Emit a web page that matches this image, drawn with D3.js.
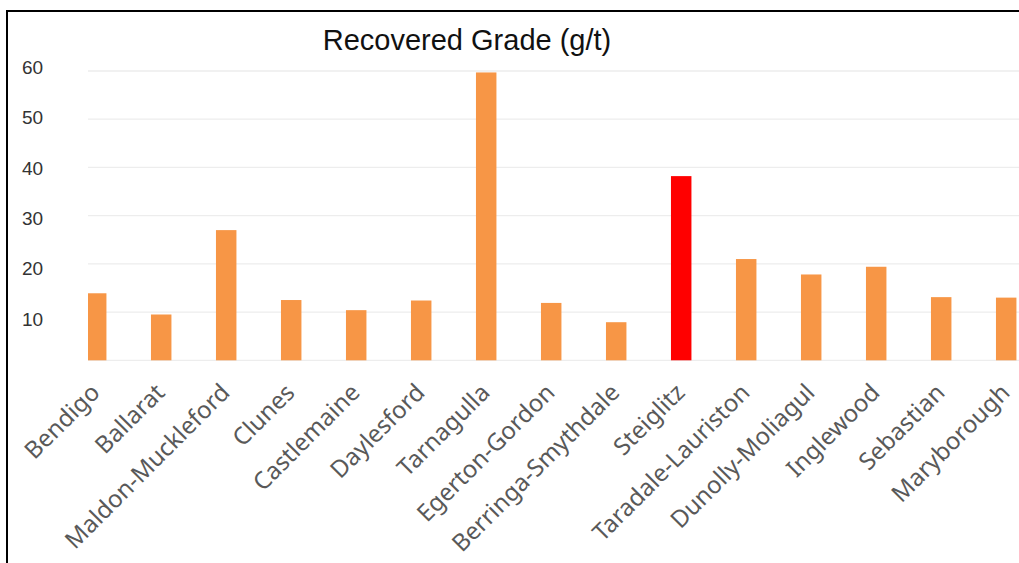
<!DOCTYPE html>
<html>
<head>
  <meta charset="utf-8">
  <script src="https://d3js.org/d3.v7.min.js"></script>
  <style>
    body { margin: 0; background: white; }
    svg { display: block; }
    .ytick { font-family: "Liberation Sans", Arial, sans-serif; font-size: 19px; fill: #333333; }
    .xlabel { font-family: "Noto Sans", sans-serif; font-size: 24px; fill: #595959; }
    .title { font-family: "Liberation Sans", Arial, sans-serif; font-size: 29px; fill: #111111; }
  </style>
</head>
<body>
<div id="chart"></div>
<script>
  const sites = ['Bendigo', 'Ballarat', 'Maldon-Muckleford', 'Clunes', 'Castlemaine', 'Daylesford',
    'Tarnagulla', 'Egerton-Gordon', 'Berringa-Smythdale', 'Steiglitz', 'Taradale-Lauriston',
    'Dunolly-Moliagul', 'Inglewood', 'Sebastian', 'Maryborough'];
  const grades = [13.9, 9.5, 27.0, 12.5, 10.4, 12.4, 59.7, 11.9, 7.9, 38.2, 21.0, 17.8, 19.4, 13.1, 13.0];
  const highlight = 'Steiglitz';
  const yTicks = [10, 20, 30, 40, 50, 60];

  const width = 1019, height = 563;
  const plotLeft = 88, plotRight = 1019;

  const svg = d3.select('#chart').append('svg')
      .attr('width', width)
      .attr('height', height);

  // frame (only left and top edges show in the crop)
  svg.append('line').attr('x1', 7).attr('x2', 7).attr('y1', 10).attr('y2', height)
      .attr('stroke', '#000').attr('stroke-width', 2);
  svg.append('line').attr('x1', 6).attr('x2', width).attr('y1', 11).attr('y2', 11)
      .attr('stroke', '#000').attr('stroke-width', 2);

  const y = d3.scaleLinear().domain([0, 60]).range([360.3, 71]);
  // the tick labels in the original sit on a slightly wider spacing than the gridlines
  const yLabel = d3.scaleLinear().domain([10, 60]).range([319, 67.5]);

  // band step 65px, bars ~20.5px wide
  const x = d3.scaleBand()
      .domain(sites)
      .range([63.7, 63.7 + 65 * sites.length])
      .paddingInner(0.685)
      .paddingOuter(0.3425);

  svg.append('defs').append('clipPath').attr('id', 'plotclip')
    .append('rect').attr('x', plotLeft).attr('y', 0).attr('width', plotRight - plotLeft).attr('height', height);

  // gridlines
  svg.append('g').selectAll('line')
      .data([0].concat(yTicks))
      .join('line')
      .attr('x1', plotLeft).attr('x2', plotRight)
      .attr('y1', d => y(d)).attr('y2', d => y(d))
      .attr('stroke', '#ededed').attr('stroke-width', 1.3);

  // y tick labels
  svg.append('g').selectAll('text')
      .data(yTicks)
      .join('text')
      .attr('class', 'ytick')
      .attr('x', 22)
      .attr('y', d => yLabel(d))
      .attr('dy', '0.35em')
      .text(d => d);

  // bars
  svg.append('g').attr('clip-path', 'url(#plotclip)')
    .selectAll('rect')
      .data(sites)
      .join('rect')
      .attr('x', d => x(d))
      .attr('width', x.bandwidth())
      .attr('y', (d, i) => y(grades[i]))
      .attr('height', (d, i) => y(0) - y(grades[i]))
      .attr('fill', d => d === highlight ? '#ff0000' : '#f79646');

  // category labels
  svg.append('g').selectAll('text')
      .data(sites)
      .join('text')
      .attr('class', 'xlabel')
      .attr('text-anchor', 'end')
      .attr('transform', d => `translate(${x(d) + x.bandwidth() / 2 + 5},${394}) rotate(-45)`)
      .text(d => d);

  // title
  svg.append('text')
      .attr('class', 'title')
      .attr('x', 467)
      .attr('y', 50)
      .attr('text-anchor', 'middle')
      .text('Recovered Grade (g/t)');
</script>
</body>
</html>
